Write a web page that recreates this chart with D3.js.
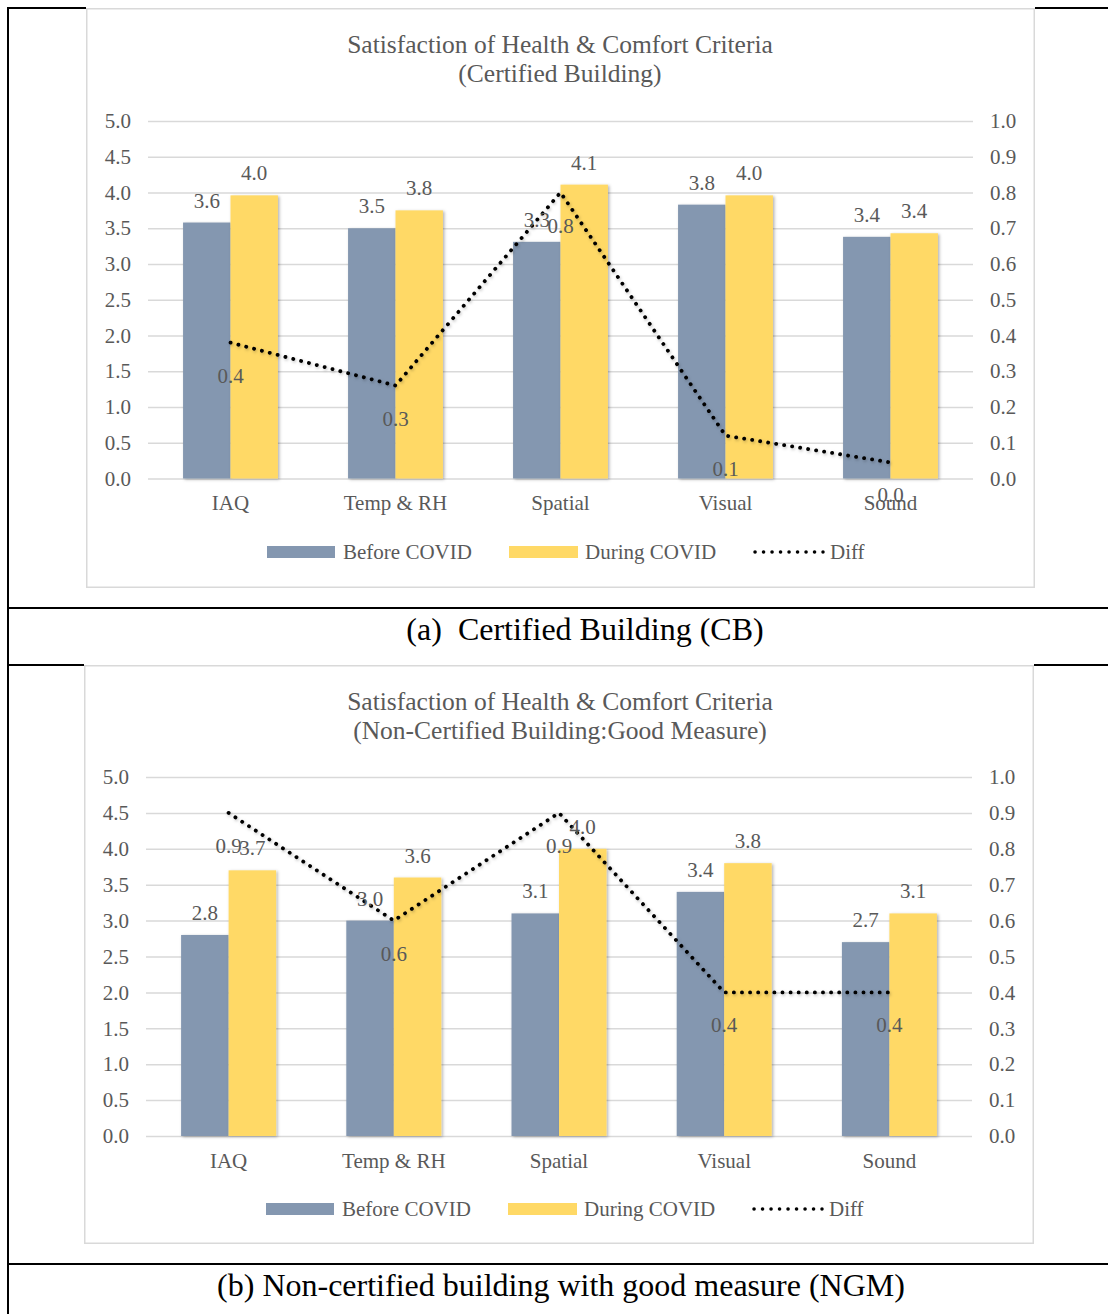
<!DOCTYPE html>
<html><head><meta charset="utf-8">
<script src="https://cdn.jsdelivr.net/npm/d3@7"></script>
<style>
html,body{margin:0;padding:0;background:#fff;}
svg{display:block;}
text{font-family:"Liberation Serif","Times New Roman",serif;}
</style></head>
<body><svg id="c" width="1108" height="1314"></svg>
<script>
// ---------- data ----------
const categories = ["IAQ", "Temp & RH", "Spatial", "Visual", "Sound"];
const cbBefore = [3.58, 3.50, 3.31, 3.83, 3.38];
const cbDuring = [3.96, 3.75, 4.11, 3.96, 3.43];
const cbDiff   = [0.38, 0.26, 0.80, 0.12, 0.045];
const ngmBefore = [2.8, 3.0, 3.1, 3.4, 2.7];
const ngmDuring = [3.7, 3.6, 4.0, 3.8, 3.1];
const ngmDiff   = [0.9, 0.6, 0.9, 0.4, 0.4];
const leftTicks  = [0, 0.5, 1.0, 1.5, 2.0, 2.5, 3.0, 3.5, 4.0, 4.5, 5.0];
const rightTicks = [0, 0.1, 0.2, 0.3, 0.4, 0.5, 0.6, 0.7, 0.8, 0.9, 1.0];
const seriesNames = ["Before COVID", "During COVID", "Diff"];
const titleCB  = ["Satisfaction of Health & Comfort Criteria", "(Certified Building)"];
const titleNGM = ["Satisfaction of Health & Comfort Criteria", "(Non-Certified Building:Good Measure)"];
const captionCB  = "(a)\u00a0 Certified Building (CB)";
const captionNGM = "(b) Non-certified building with good measure (NGM)";

const BLUE = "#8497B0", YELLOW = "#FFD966", GRID = "#D9D9D9", TXT = "#595959";
const svg = d3.select("#c");
const defs = svg.append("defs");
const f = defs.append("filter").attr("id","sh").attr("x","-30%").attr("y","-10%").attr("width","160%").attr("height","130%");
f.append("feDropShadow").attr("dx",1.5).attr("dy",1).attr("stdDeviation",1.6).attr("flood-color","#000").attr("flood-opacity",0.3);
const fl = defs.append("filter").attr("id","shl").attr("x","-10%").attr("y","-10%").attr("width","120%").attr("height","130%");
fl.append("feDropShadow").attr("dx",1).attr("dy",1.5).attr("stdDeviation",1.5).attr("flood-color","#000").attr("flood-opacity",0.25);

// ---------- table frame ----------
const frame = svg.append("g");
[8, 608, 665, 1264].forEach(y => frame.append("line").attr("x1",7).attr("x2",1108).attr("y1",y).attr("y2",y).attr("stroke","#000").attr("stroke-width",2));
frame.append("line").attr("x1",8).attr("x2",8).attr("y1",7).attr("y2",1314).attr("stroke","#000").attr("stroke-width",2);

svg.append("text").attr("x",585).attr("y",640).attr("text-anchor","middle").attr("font-size",32).attr("fill","#000").text(captionCB);
svg.append("text").attr("x",561).attr("y",1296).attr("text-anchor","middle").attr("font-size",32).attr("fill","#000").text(captionNGM);

function drawChart(o) {
  const g = svg.append("g");
  g.append("rect").attr("x",o.bx).attr("y",o.by-3).attr("width",o.bw).attr("height",o.bh+3).attr("fill","#fff");
  g.append("rect").attr("x",o.bx+0.75).attr("y",o.by+0.75).attr("width",o.bw-1.5).attr("height",o.bh-1.5)
    .attr("fill","none").attr("stroke",GRID).attr("stroke-width",1.5);

  // title
  o.title.forEach((t,i) => g.append("text").attr("x",o.tx).attr("y",o.ty + i*29).attr("text-anchor","middle")
     .attr("font-size",25.5).attr("fill",TXT).text(t));

  const x = d3.scaleBand().domain(categories).range([o.x0, o.x1]).paddingInner(0.425).paddingOuter(0.2125);
  const x1 = d3.scaleBand().domain([0,1]).range([0, x.bandwidth()]);
  const y = d3.scaleLinear().domain([0,5]).range([o.y0, o.yTop]);
  const y2 = d3.scaleLinear().domain([0,1]).range([o.y0, o.yTop]);
  const fmt = d3.format(".1f");

  // left axis + gridlines
  const ga = g.append("g").attr("transform",`translate(${o.x0},0)`)
    .call(d3.axisLeft(y).tickValues(leftTicks).tickFormat(fmt).tickSize(-(o.x1-o.x0)).tickPadding(17));
  ga.select(".domain").remove();
  ga.selectAll("line").attr("stroke",GRID).attr("stroke-width",1.5);
  ga.selectAll("text").attr("font-size",21).attr("fill",TXT).attr("font-family",'"Liberation Serif",serif');

  const gr = g.append("g").attr("transform",`translate(${o.x1},0)`)
    .call(d3.axisRight(y2).tickValues(rightTicks).tickFormat(fmt).tickSize(0).tickPadding(17));
  gr.select(".domain").remove();
  gr.selectAll("text").attr("font-size",21).attr("fill",TXT).attr("font-family",'"Liberation Serif",serif');

  const gb = g.append("g").attr("transform",`translate(0,${o.y0})`)
    .call(d3.axisBottom(x).tickSize(0).tickPadding(17));
  gb.select(".domain").remove();
  gb.selectAll("text").attr("font-size",21).attr("fill",TXT).attr("font-family",'"Liberation Serif",serif');

  // bars
  const series = [{v:o.before, c:BLUE},{v:o.during, c:YELLOW}];
  series.forEach((s,si) => {
    g.append("g").attr("filter","url(#sh)").selectAll("rect").data(s.v).join("rect")
      .attr("x",(d,i)=>x(categories[i])+x1(si)).attr("width",x1.bandwidth())
      .attr("y",d=>y(d)).attr("height",d=>o.y0-y(d)).attr("fill",s.c);
  });

  // diff line
  const line = d3.line().x((d,i)=>x(categories[i])+x.bandwidth()/2).y(d=>y2(d));
  g.append("path").datum(o.diff).attr("d",line).attr("fill","none").attr("stroke","#000")
    .attr("stroke-width",3.8).attr("stroke-linecap","round").attr("stroke-dasharray","0.1,8")
    .attr("filter","url(#shl)");

  // bar labels
  series.forEach((s,si) => {
    g.append("g").selectAll("text").data(s.v).join("text")
      .attr("x",(d,i)=>x(categories[i])+x1(si)+x1.bandwidth()/2).attr("y",d=>y(d)-15)
      .attr("text-anchor","middle").attr("font-size",21).attr("fill",TXT).text(d=>fmt(d));
  });
  // diff labels (below)
  g.append("g").selectAll("text").data(o.diff).join("text")
    .attr("x",(d,i)=>x(categories[i])+x.bandwidth()/2).attr("y",d=>y2(d)+40)
    .attr("text-anchor","middle").attr("font-size",21).attr("fill",TXT).text(d=>fmt(d));

  // legend
  const lg = g.append("g");
  const ly = o.ly;
  lg.append("rect").attr("x",o.lx).attr("y",ly-6).attr("width",68).attr("height",12).attr("fill",BLUE);
  lg.append("text").attr("x",o.lx+76).attr("y",ly+7).attr("font-size",21).attr("fill",TXT).text(seriesNames[0]);
  lg.append("rect").attr("x",o.lx+242).attr("y",ly-6).attr("width",69).attr("height",12).attr("fill",YELLOW);
  lg.append("text").attr("x",o.lx+318).attr("y",ly+7).attr("font-size",21).attr("fill",TXT).text(seriesNames[1]);
  lg.append("line").attr("x1",o.lx+488).attr("x2",o.lx+556).attr("y1",ly).attr("y2",ly)
    .attr("stroke","#000").attr("stroke-width",3.5).attr("stroke-linecap","round").attr("stroke-dasharray","0.1,8.4");
  lg.append("text").attr("x",o.lx+563).attr("y",ly+7).attr("font-size",21).attr("fill",TXT).text(seriesNames[2]);
}

drawChart({bx:86, by:8, bw:949, bh:580, title:titleCB, tx:560, ty:53,
  x0:148, x1:973, y0:478.5, yTop:121, before:cbBefore, during:cbDuring, diff:cbDiff, lx:267, ly:552});
drawChart({bx:84, by:665, bw:950, bh:579, title:titleNGM, tx:560, ty:710,
  x0:146, x1:972, y0:1136, yTop:777, before:ngmBefore, during:ngmDuring, diff:ngmDiff, lx:266, ly:1209});
</script></body></html>
